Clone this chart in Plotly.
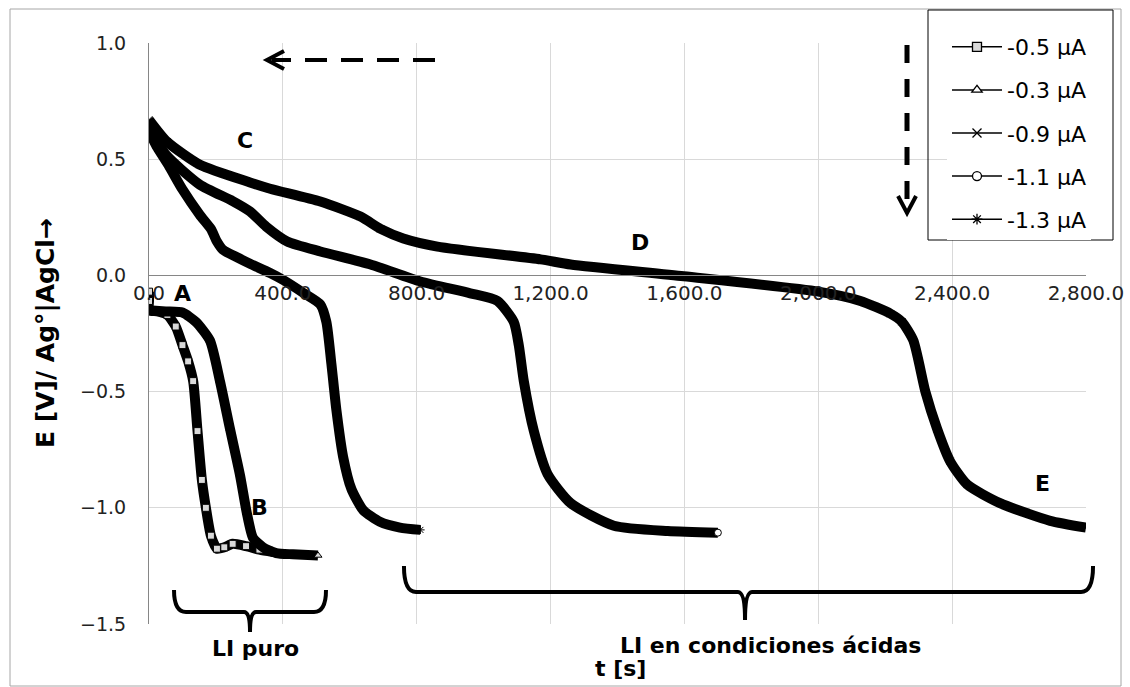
import plotly.graph_objects as go

# tiempos [s] y potenciales [V]
t_05 = [0, 0, 0, 25, 55, 80, 100, 117, 132, 145, 158, 170, 185, 203, 225, 250, 290, 330, 370]
E_05 = [-0.07, -0.11, -0.15, -0.155, -0.17, -0.22, -0.30, -0.37, -0.455, -0.67, -0.88, -1.0, -1.12,
        -1.176, -1.17, -1.155, -1.165, -1.18, -1.19]

t_03 = [0, 50, 100, 140, 182, 212, 242, 272, 292, 311, 341, 380, 430, 505]
E_03 = [-0.15, -0.155, -0.16, -0.2, -0.28, -0.455, -0.66, -0.86, -1.02, -1.13, -1.17, -1.195, -1.2, -1.205]

t_09 = [0, 54, 152, 302, 362, 512, 632, 692, 760, 862, 1170, 1260, 1598, 2000, 2126, 2216, 2250,
        2284, 2320, 2355, 2394, 2445, 2543, 2693, 2800]
E_09 = [0.67, 0.575, 0.476, 0.40, 0.373, 0.318, 0.253, 0.2, 0.159, 0.124, 0.069, 0.047, -0.004, -0.07,
        -0.11, -0.165, -0.2, -0.28, -0.5, -0.66, -0.8, -0.9, -0.98, -1.056, -1.085]

t_11 = [0, 50, 152, 250, 302, 350, 413, 512, 662, 811, 960, 1041, 1090, 1105, 1120, 1150, 1191,
        1260, 1389, 1550, 1700]
E_11 = [0.64, 0.52, 0.39, 0.32, 0.275, 0.21, 0.146, 0.103, 0.047, -0.026, -0.077, -0.11, -0.2,
        -0.3, -0.455, -0.67, -0.855, -0.98, -1.077, -1.1, -1.107]

t_13 = [0, 25, 60, 100, 152, 185, 203, 221, 260, 302, 362, 401, 461, 512, 530, 545, 560, 580, 605,
        640, 690, 750, 811]
E_13 = [0.62, 0.55, 0.47, 0.37, 0.26, 0.2, 0.146, 0.11, 0.08, 0.05, 0.01, -0.02, -0.075, -0.125,
        -0.2, -0.38, -0.58, -0.78, -0.92, -1.01, -1.06, -1.085, -1.095]

names = ["-0.5 µA", "-0.3 µA", "-0.9 µA", "-1.1 µA", "-1.3 µA"]
symbols = ["square", "triangle-up", "x-thin", "circle", "asterisk"]
fills = ["#d9d9d9", "white", "black", "white", "black"]
series = [(t_05, E_05), (t_03, E_03), (t_09, E_09), (t_11, E_11), (t_13, E_13)]

W, H = 1130, 687
L, R, T, B = 149, 44, 43, 63
FONT = "DejaVu Sans"


def px(x, y):
    # pixel -> paper
    return (x - L) / (W - L - R), (H - B - y) / (H - T - B)


def path(pts, cmds):
    s = ""
    for c, p in zip(cmds, pts):
        s += c + " " + " ".join("%.4f,%.4f" % px(*q) for q in p) + " "
    return s.strip()


fig = go.Figure()
for (t, E), sym, fc in zip(series, symbols, fills):
    # marcador visible solo al final (y cuadrados grises en -0.5)
    cols = ["black"] * (len(t) - 1) + [fc]
    if sym == "square":
        cols = [fc] * len(t)
    if sym == "triangle-up":
        cols[-1] = "#d9d9d9"
    fig.add_trace(go.Scatter(
        x=t, y=E, mode="lines+markers", showlegend=False,
        line=dict(color="black", width=10, shape="spline", smoothing=0.6),
        marker=dict(symbol=sym, size=7, color=cols, line=dict(color="black", width=1)),
    ))

# entradas de leyenda
for i, (n, sym, fc) in enumerate(zip(names, symbols, fills)):
    fig.add_trace(go.Scatter(
        x=[None], y=[None], mode="lines+markers", name=n, legendgroup=str(i),
        line=dict(color="black", width=1.5),
        marker=dict(symbol=sym, size=9, color=fc, line=dict(color="black", width=1.3)),
    ))

bold = dict(family=FONT, size=22, color="black")
labels = [("A", 182, 293), ("B", 259, 507), ("C", 245, 140), ("D", 640, 242), ("E", 1042, 483),
          ("LI puro", 255, 648), ("LI en condiciones ácidas", 770, 645), ("t [s]", 620, 668)]
for txt, x, y in labels:
    xp, yp = px(x, y)
    fig.add_annotation(x=xp, y=yp, xref="paper", yref="paper", text="<b>%s</b>" % txt,
                       xanchor="center", yanchor="middle", showarrow=False, font=bold)

xp, yp = px(45, 333)
fig.add_annotation(x=xp, y=yp, xref="paper", yref="paper", text="<b>E [V]/ Ag°|AgCl→</b>",
                   xanchor="center", yanchor="middle", textangle=-90, showarrow=False,
                   font=dict(family=FONT, size=25, color="black"))

# llaves
fig.add_shape(type="path", xref="paper", yref="paper", line=dict(color="black", width=4),
              path=path([[(174, 590)], [(174, 612), (186, 612)], [(244, 612)], [(250, 612), (250, 632)],
                         [(250, 612), (256, 612)], [(314, 612)], [(326, 612), (326, 590)]],
                        ["M", "Q", "L", "Q", "Q", "L", "Q"]))
fig.add_shape(type="path", xref="paper", yref="paper", line=dict(color="black", width=4),
              path=path([[(404, 566)], [(404, 592), (416, 592)], [(738, 592)], [(745, 592), (745, 620)],
                         [(745, 592), (752, 592)], [(1081, 592)], [(1093, 592), (1093, 566)]],
                        ["M", "Q", "L", "Q", "Q", "L", "Q"]))

# flechas discontinuas
x0, y0 = px(435, 60)
x1, y1 = px(272, 60)
fig.add_shape(type="line", xref="paper", yref="paper", x0=x0, y0=y0, x1=x1, y1=y1,
              line=dict(color="black", width=4, dash="22px,14px"))
fig.add_shape(type="path", xref="paper", yref="paper", line=dict(color="black", width=4),
              path=path([[(284, 51)], [(267, 60)], [(284, 69)]], ["M", "L", "L"]))
x0, y0 = px(907, 45)
x1, y1 = px(907, 205)
fig.add_shape(type="line", xref="paper", yref="paper", x0=x0, y0=y0, x1=x1, y1=y1,
              line=dict(color="black", width=5, dash="18px,16px"))
fig.add_shape(type="path", xref="paper", yref="paper", line=dict(color="black", width=4),
              path=path([[(898, 196)], [(907, 213)], [(916, 196)]], ["M", "L", "L"]))

# borde del grafico y recuadro de la leyenda
bx0, by0 = px(10, 686)
bx1, by1 = px(1121, 9)
fig.add_shape(type="rect", xref="paper", yref="paper", x0=bx0, y0=by0, x1=bx1, y1=by1,
              line=dict(color="#a6a6a6", width=1), layer="below")
bx0, by0 = px(928, 240)
bx1, by1 = px(1113, 10)
fig.add_shape(type="rect", xref="paper", yref="paper", x0=bx0, y0=by0, x1=bx1, y1=by1,
              line=dict(color="black", width=1), layer="above")

lx, ly = px(947, 26)
fig.update_layout(
    width=W, height=H, margin=dict(l=L, r=R, t=T, b=B),
    plot_bgcolor="white", paper_bgcolor="white",
    font=dict(family=FONT, size=19, color="#222"),
    legend=dict(x=lx, y=ly, xanchor="left", yanchor="top", borderwidth=0,
                bgcolor="white", traceorder="grouped", tracegroupgap=11.5, itemwidth=50,
                font=dict(family=FONT, size=22, color="black")),
    xaxis=dict(range=[0, 2800], dtick=400, tickformat=",.1f", showgrid=True, gridcolor="#d9d9d9",
               anchor="free", position=0.6, showline=True, linecolor="#868686", zeroline=False,
               ticks="", tickfont=dict(size=20), automargin=False),
    yaxis=dict(range=[-1.5, 1.0], dtick=0.5, tickformat=".1f", showgrid=True, gridcolor="#d9d9d9",
               showline=True, linecolor="#868686", zeroline=False, ticks="", ticklabelstandoff=18,
               tickfont=dict(size=19), automargin=False),
)

fig.write_html("out.html", config={"displayModeBar": False},
               post_script="document.body.style.margin='0px';")
